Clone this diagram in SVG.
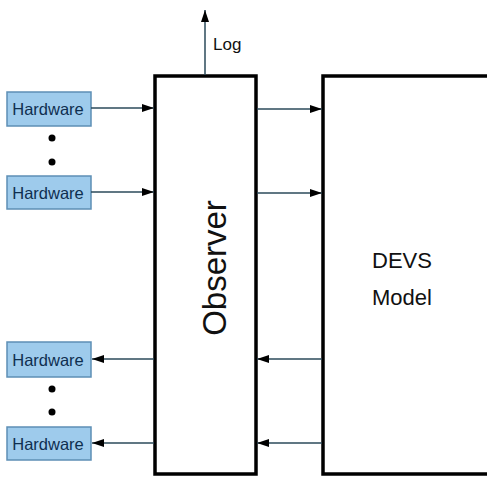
<svg xmlns="http://www.w3.org/2000/svg" width="487" height="478" viewBox="0 0 487 478">
<style>
.hw rect{fill:#9ecbec;stroke:#5d8fb5;stroke-width:1.5}
.hw text{font-family:"Liberation Sans",Arial,sans-serif;font-size:16.5px;fill:#0f2f50;text-anchor:middle}
.blk{fill:#fff;stroke:#000;stroke-width:3.5}
.big{font-family:"Liberation Sans",Arial,sans-serif;fill:#111}
.con line{stroke:#2b4a5a;stroke-width:1.5}
.dot{fill:#000}
</style>
<defs>
<marker id="ah" viewBox="0 0 12 8" refX="12" refY="4" markerWidth="12" markerHeight="8" markerUnits="userSpaceOnUse" orient="auto">
<path d="M0,0 L12,4 L0,8 Z" fill="#000"/>
</marker>
</defs>
<rect width="487" height="478" fill="#fff"/>
<g id="observer">
<rect class="blk" x="155" y="76" width="101" height="398"/>
<text class="big" font-size="33" transform="translate(226,268) rotate(-90)" text-anchor="middle">Observer</text>
</g>
<g id="devs">
<rect class="blk" x="323" y="76" width="200" height="398"/>
<text class="big" font-size="22" x="402" y="268" text-anchor="middle">DEVS</text>
<text class="big" font-size="22" x="402" y="305" text-anchor="middle">Model</text>
</g>
<g id="hw1" class="hw"><rect x="7" y="92" width="84" height="34"/><text x="48" y="115">Hardware</text></g>
<g id="hw2" class="hw"><rect x="7" y="176" width="84" height="33"/><text x="48" y="199">Hardware</text></g>
<g id="hw3" class="hw"><rect x="7" y="342" width="84" height="35"/><text x="48" y="366">Hardware</text></g>
<g id="hw4" class="hw"><rect x="7" y="427" width="84" height="33"/><text x="48" y="450">Hardware</text></g>
<g id="dots">
<circle class="dot" cx="52" cy="138" r="3.5"/>
<circle class="dot" cx="52" cy="162" r="3.5"/>
<circle class="dot" cx="52" cy="389" r="3.5"/>
<circle class="dot" cx="52" cy="412" r="3.5"/>
</g>
<g id="connectors" class="con">
<line x1="91" y1="108" x2="154" y2="108" marker-end="url(#ah)"/>
<line x1="91" y1="192" x2="154" y2="192" marker-end="url(#ah)"/>
<line x1="257" y1="109" x2="322" y2="109" marker-end="url(#ah)"/>
<line x1="257" y1="193" x2="322" y2="193" marker-end="url(#ah)"/>
<line x1="322" y1="359" x2="257" y2="359" marker-end="url(#ah)"/>
<line x1="322" y1="443" x2="257" y2="443" marker-end="url(#ah)"/>
<line x1="154" y1="359" x2="92" y2="359" marker-end="url(#ah)"/>
<line x1="154" y1="443" x2="92" y2="443" marker-end="url(#ah)"/>
<line x1="205" y1="75" x2="205" y2="10" marker-end="url(#ah)"/>
</g>
<text class="big" font-size="17" x="213" y="50" fill="#222">Log</text>
</svg>
